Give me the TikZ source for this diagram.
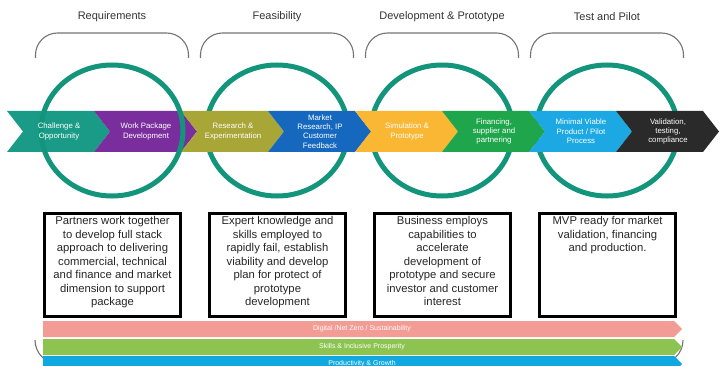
\documentclass[tikz,border=0pt]{standalone}
\usepackage{fontspec}
\setmainfont{Liberation Sans}
\usetikzlibrary{positioning,shapes.geometric}

\definecolor{ringgreen}{HTML}{12957B}
\definecolor{cTeal}{HTML}{1A9B87}
\definecolor{cPurple}{HTML}{7A2E9E}
\definecolor{cOlive}{HTML}{A8A636}
\definecolor{cBlue}{HTML}{1668BF}
\definecolor{cYellow}{HTML}{F9B733}
\definecolor{cGreen}{HTML}{1FA54B}
\definecolor{cCyan}{HTML}{1CA8E3}
\definecolor{cDark}{HTML}{2A2A2A}
\definecolor{bandpink}{HTML}{F39C95}
\definecolor{bandgreen}{HTML}{8CC351}
\definecolor{bandblue}{HTML}{10A8E0}

\tikzset{
  stage/.style={font=\fontsize{11}{13}\selectfont, text=black!80},
  brace/.style={draw=black!55, line width=1.1pt, rounded corners=22pt},
  ring/.style={ellipse, draw=ringgreen, line width=5pt, minimum width=142pt,
    minimum height=131pt, inner sep=0pt},
  steplabel/.style={text=white, align=center, font=\fontsize{7.8}{9.4}\selectfont},
  panel/.style={draw=black, line width=3pt, minimum width=136pt,
    minimum height=103pt, inner sep=0pt},
  blurb/.style={align=center, inner sep=0pt, font=\fontsize{11.3}{13.5}\selectfont,
    text=black!85},
  theme/.style={text=white, font=\fontsize{7}{8}\selectfont},
}

\begin{document}
\begin{tikzpicture}[x=1pt,y=-1pt]
  \useasboundingbox (0,0) rectangle (720,366);
  \clip (0,0) rectangle (720,366);

  % stage headings with their braces
  \foreach \i/\name in {1/Requirements,2/Feasibility,3/Development \& Prototype,4/Test and Pilot} {
    \pgfmathsetmacro{\cx}{112+165*(\i-1)}
    \node[stage] (stage\i) at (\cx,17) {\name};
    \draw[brace] (\cx-76.5,58) -- (\cx-76.5,33) -- (\cx+76.5,33) -- (\cx+76.5,58);
  }

  % rings behind the arrow band
  \foreach \i in {2,3,4}
    \node[ring] (ring\i) at ({112+165*(\i-1)},130.5) {};

  % chevron band
  \foreach \i/\col in {1/cTeal,2/cPurple,3/cOlive,4/cBlue,5/cYellow,6/cGreen,7/cCyan,8/cDark} {
    \pgfmathsetmacro{\sx}{7+87*(\i-1)}
    \fill[\col] (\sx,111) -- ++(87,0) -- ++(16,20.5) -- ++(-16,20.5) -- ++(-87,0)
      -- ++(16,-20.5) -- cycle;
  }

  % first ring sits over the band
  \node[ring] (ring1) at (112,130.5) {};

  \foreach \i/\txt in {1/{Challenge \&\\Opportunity},
      2/{Work Package\\Development},
      3/{Research \&\\Experimentation},
      4/{Market\\Research, IP\\Customer\\Feedback},
      5/{Simulation \&\\Prototype},
      6/{Financing,\\supplier and\\partnering},
      7/{Minimal Viable\\Product / Pilot\\Process},
      8/{Validation,\\testing,\\compliance}} {
    \node[steplabel] (step\i) at ({59+87*(\i-1)},131.5) {\txt};
  }

  % description panels
  \foreach \i/\txt in {1/{Partners work together\\to develop full stack\\approach to delivering\\commercial, technical\\and finance and market\\dimension to support\\package},
      2/{Expert knowledge and\\skills employed to\\rapidly fail, establish\\viability and develop\\plan for protect of\\prototype\\development},
      3/{Business employs\\capabilities to\\accelerate\\development of\\prototype and secure\\investor and customer\\interest},
      4/{MVP ready for market\\validation, financing\\and production.}} {
    \pgfmathsetmacro{\cx}{112.5+165*(\i-1)}
    \node[panel] (panel\i) at (\cx,265) {};
    \node[blurb, below=4.5pt of panel\i.north] (blurb\i) {\txt};
  }

  % cross-cutting themes
  \draw[brace, rounded corners=24pt] (35,340) -- (35,364) -- (683,364) -- (683,340);
  \foreach \i/\col/\txt/\y in {1/bandpink/{Digital /Net Zero / Sustainability}/321,
      2/bandgreen/{Skills \& Inclusive Prosperity}/339,
      3/bandblue/{Productivity \& Growth}/356} {
    \fill[\col] (43,\y) -- (674,\y) -- (682,\y+8) -- (674,\y+16) -- (43,\y+16) -- cycle;
    \node[theme] (theme\i) at (362,\y+7.5) {\txt};
  }
\end{tikzpicture}
\end{document}
